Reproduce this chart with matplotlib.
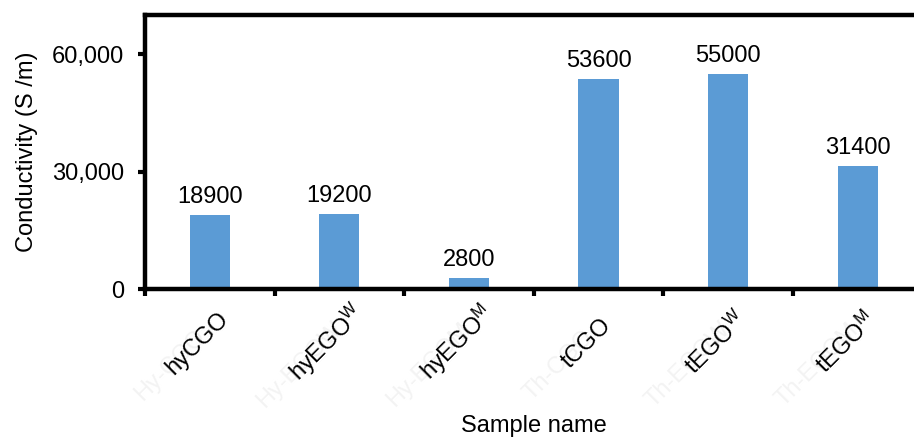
import matplotlib
matplotlib.use("Agg")
import matplotlib.pyplot as plt
from matplotlib.ticker import FuncFormatter, FixedLocator
import matplotlib.transforms as mtransforms

plt.rcParams["font.family"] = ["Liberation Sans", "DejaVu Sans"]
plt.rcParams["mathtext.default"] = "regular"

# Data
samples = ["hyCGO", "hyEGO$^{W}$", "hyEGO$^{M}$",
           "tCGO", "tEGO$^{W}$", "tEGO$^{M}$"]
old_names = ["Hy-CGO", "Hy-EGOW", "Hy-EGOM", "Th-CGO", "Th-EGOW", "Th-EGOM"]
conductivity = [18900, 19200, 2800, 53600, 55000, 31400]
y_ticks = [0, 30000, 60000]

FS = 17
W, H, DPI = 914, 438, 100
fig = plt.figure(figsize=(W / DPI, H / DPI), dpi=DPI)
left, right, bottom, top = 145 / W, 922.5 / W, 1 - 289 / H, 1 - 15 / H
ax = fig.add_axes([left, bottom, right - left, top - bottom])

x = list(range(len(samples)))
ax.bar(x, conductivity, width=0.31, color="#5B9BD5", zorder=2)

for xi, v in zip(x, conductivity):
    ax.annotate(f"{v}", (xi, v), xytext=(0, 5), textcoords="offset points",
                ha="center", va="bottom", fontsize=FS)

ax.set_xlim(-0.5, len(samples) - 0.5)
ax.set_ylim(0, 70000)
ax.set_yticks(y_ticks)
ax.yaxis.set_major_formatter(FuncFormatter(lambda v, p: f"{int(v):,}"))
ax.tick_params(axis="y", direction="out", length=5, width=3, labelsize=FS, pad=10)

# category boundary ticks on the x axis, labels placed separately
ax.xaxis.set_major_locator(FixedLocator([i - 0.5 for i in x]))
ax.set_xticklabels([])
ax.tick_params(axis="x", direction="out", length=5, width=3)

for s in ax.spines.values():
    s.set_linewidth(3.2)
    s.set_color("black")

# rotated sample names (faint earlier names underneath)
for xi, old, name in zip(x, old_names, samples):
    off_old = mtransforms.offset_copy(ax.get_xaxis_transform(), fig=fig,
                                      x=-40, y=-76, units="dots")
    ax.text(xi, 0, old, transform=off_old, rotation=45, ha="center",
            va="center", fontsize=FS, color="#f3f3f3", clip_on=False, zorder=0)
    off = mtransforms.offset_copy(ax.get_xaxis_transform(), fig=fig,
                                  x=-12, y=-54, units="dots")
    ax.text(xi, 0, name, transform=off, rotation=45, ha="center",
            va="center", fontsize=FS, color="black", clip_on=False)

ax.set_ylabel("Conductivity (S /m)", fontsize=FS, labelpad=10)
fig.text((left + right) / 2, 1 - 426 / H, "Sample name", ha="center",
         va="center", fontsize=FS)

fig.savefig("out.png", dpi=DPI)
